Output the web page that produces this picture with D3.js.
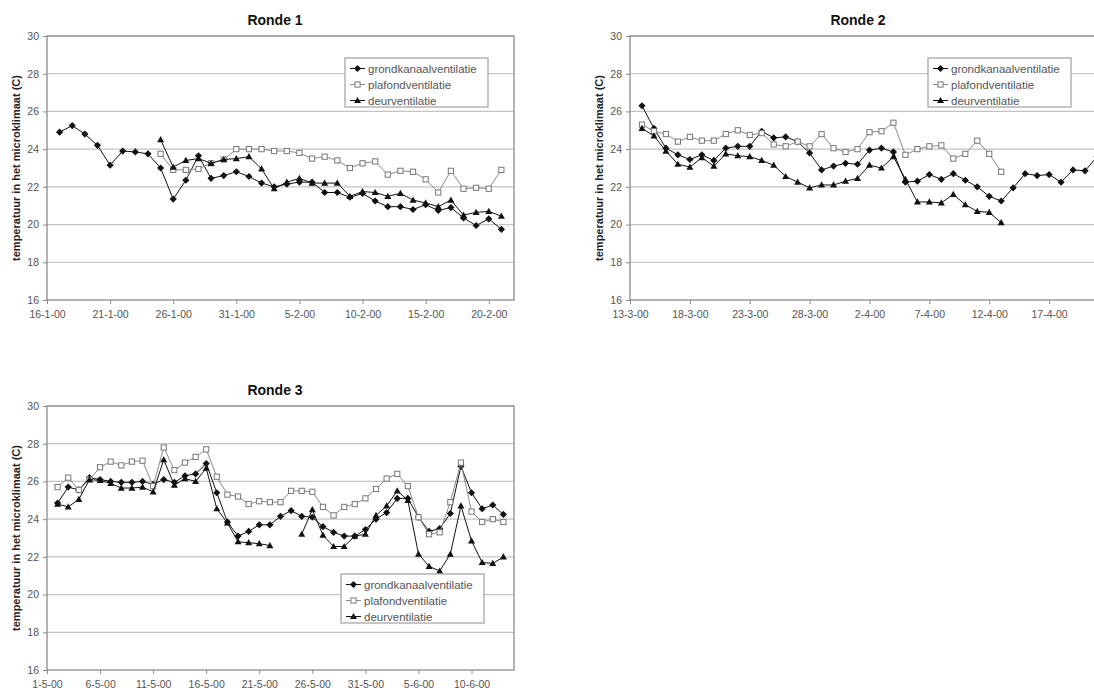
<!DOCTYPE html>
<html lang="nl">
<head>
<meta charset="utf-8">
<title>Ronde 1 - 3</title>
<script src="https://cdn.jsdelivr.net/npm/d3@7"></script>
<style>
  body { margin: 0; background: #fff; }
  text { font-family: "Liberation Sans", Arial, sans-serif; }
</style>
</head>
<body>
<script>

// namen in de legenda
var seriesNames = ["grondkanaalventilatie", "plafondventilatie", "deurventilatie"];
var yTicks = [16, 18, 20, 22, 24, 26, 28, 30];

// Ronde 1: dagwaarden vanaf 17-1-2000
var r1Start = "2000-01-17";
var r1Grond = [24.9, 25.25, 24.8, 24.2, 23.15, 23.9, 23.85, 23.75, 23.0, 21.35, 22.35, 23.65, 22.45, 22.6, 22.8, 22.55, 22.2, 22.0,
               22.15, 22.25, 22.25, 21.7, 21.7, 21.45, 21.65, 21.25, 20.95, 20.95, 20.8, 21.05, 20.75, 20.9, 20.35, 19.95, 20.3, 19.75];
var r1Plafond = [null, null, null, null, null, null, null, null, 23.75, 22.9, 22.9, 22.95, 23.25, 23.45, 24.0, 24.0, 24.0, 23.9,
                 23.9, 23.8, 23.5, 23.6, 23.4, 23.0, 23.25, 23.35, 22.65, 22.85, 22.8, 22.4, 21.7, 22.85, 21.9, 21.95, 21.9, 22.9];
var r1Deur = [null, null, null, null, null, null, null, null, 24.5, 23.05, 23.4, 23.5, 23.25, 23.45, 23.5, 23.6, 22.95, 21.9,
              22.25, 22.45, 22.2, 22.2, 22.2, 21.5, 21.75, 21.7, 21.5, 21.65, 21.3, 21.15, 20.95, 21.3, 20.5, 20.65, 20.7, 20.45];
var r1Ticks = ["2000-01-16", "2000-01-21", "2000-01-26", "2000-01-31", "2000-02-05", "2000-02-10", "2000-02-15", "2000-02-20"];

// Ronde 2: dagwaarden vanaf 14-3-2000
var r2Start = "2000-03-14";
var r2Grond = [26.3, 25.1, 24.05, 23.7, 23.45, 23.7, 23.4, 24.05, 24.15, 24.15, 24.95, 24.6, 24.65, 24.4, 23.8, 22.9, 23.1, 23.25, 23.2, 23.95,
               24.05, 23.85, 22.25, 22.3, 22.65, 22.4, 22.7, 22.35, 22.0, 21.5, 21.25, 21.95, 22.7, 22.6, 22.65, 22.25, 22.9, 22.85, 23.6];
var r2Plafond = [25.3, 24.95, 24.8, 24.4, 24.65, 24.45, 24.45, 24.8, 25.0, 24.75, 24.85, 24.25, 24.15, 24.4, 24.15, 24.8, 24.05, 23.85, 24.0, 24.9,
                 24.95, 25.4, 23.7, 24.0, 24.15, 24.2, 23.5, 23.75, 24.45, 23.75, 22.8];
var r2Deur = [25.1, 24.7, 23.9, 23.2, 23.05, 23.55, 23.1, 23.75, 23.65, 23.6, 23.4, 23.15, 22.55, 22.25, 21.95, 22.1, 22.1, 22.3, 22.45, 23.15,
              23.0, 23.6, 22.4, 21.2, 21.2, 21.15, 21.6, 21.05, 20.7, 20.65, 20.1];
var r2Ticks = ["2000-03-13", "2000-03-18", "2000-03-23", "2000-03-28", "2000-04-02", "2000-04-07", "2000-04-12", "2000-04-17"];

// Ronde 3: dagwaarden vanaf 2-5-2000
var r3Start = "2000-05-02";
var r3Grond = [24.85, 25.7, 25.55, 26.2, 26.1, 26.0, 25.95, 25.95, 26.0, 25.85, 26.1, 25.95, 26.3, 26.4, 26.95, 25.4, 23.85, 23.1, 23.35, 23.7, 23.7, 24.15,
               24.45, 24.15, 24.1, 23.6, 23.3, 23.1, 23.1, 23.45, 24.0, 24.35, 25.1, 25.1, 24.1, 23.35, 23.5, 24.3, 26.8, 25.4, 24.55, 24.75, 24.25];
var r3Plafond = [25.7, 26.2, 25.55, 26.1, 26.75, 27.05, 26.85, 27.05, 27.1, 25.75, 27.8, 26.6, 27.0, 27.3, 27.7, 26.25, 25.3, 25.2, 24.8, 24.95, 24.9, 24.9,
                 25.5, 25.5, 25.45, 24.65, 24.2, 24.65, 24.8, 25.1, 25.6, 26.15, 26.4, 25.75, 24.1, 23.2, 23.3, 24.9, 27.0, 24.4, 23.85, 24.0, 23.85];
var r3Deur = [24.8, 24.65, 25.05, 26.1, 26.05, 25.9, 25.65, 25.65, 25.7, 25.45, 27.15, 25.8, 26.15, 26.0, 26.7, 24.55, 23.8, 22.8, 22.75, 22.7, 22.6, null,
              null, 23.2, 24.5, 23.15, 22.55, 22.55, 23.1, 23.2, 24.2, 24.7, 25.5, 25.0, 22.15, 21.5, 21.25, 22.15, 24.7, 22.85, 21.7, 21.65, 22.0];
var r3Ticks = ["2000-05-01", "2000-05-06", "2000-05-11", "2000-05-16", "2000-05-21", "2000-05-26", "2000-05-31", "2000-06-05", "2000-06-10"];

var parseDay = d3.utcParse("%Y-%m-%d");
var fmtDay = d3.utcFormat("%-d-%-m-%y");

var svg = d3.select("body").append("svg")
    .attr("width", 1094)
    .attr("height", 693);

var plotW = 467, plotH = 264;

var panels = [
  {title: "Ronde 1", left: 47, top: 36, from: "2000-01-16", to: "2000-02-22", start: r1Start,
   vals: [r1Grond, r1Plafond, r1Deur], ticks: r1Ticks, legend: [345, 58]},
  {title: "Ronde 2", left: 630, top: 36, from: "2000-03-13", to: "2000-04-21", start: r2Start,
   vals: [r2Grond, r2Plafond, r2Deur], ticks: r2Ticks, legend: [928, 58]},
  {title: "Ronde 3", left: 47, top: 406, from: "2000-05-01", to: "2000-06-14", start: r3Start,
   vals: [r3Grond, r3Plafond, r3Deur], ticks: r3Ticks, legend: [341, 574]}
];

var styles = [
  {stroke: "#111", shape: "diamond"},
  {stroke: "#8a8a8a", shape: "square"},
  {stroke: "#111", shape: "triangle"}
];

function marker(sel, shape) {
  if (shape == "square") {
    sel.append("rect").attr("x", -2.6).attr("y", -2.6).attr("width", 5.2).attr("height", 5.2)
      .attr("fill", "#fff").attr("stroke", "#777").attr("stroke-width", 1);
  } else if (shape == "diamond") {
    sel.append("path").attr("d", "M0,-3.6L3.6,0L0,3.6L-3.6,0Z").attr("fill", "#111");
  } else {
    sel.append("path").attr("d", "M0,-3.6L3.5,2.6L-3.5,2.6Z").attr("fill", "#111");
  }
}

panels.forEach(function(p) {
  var x = d3.scaleUtc()
    .domain([parseDay(p.from), parseDay(p.to)])
    .range([p.left, p.left + plotW]);
  var y = d3.scaleLinear()
    .domain([16, 30])
    .range([p.top + plotH, p.top]);

  var g = svg.append("g");

  // rasterlijnen
  g.selectAll(".grid").data(yTicks.slice(1)).enter().append("line")
    .attr("x1", p.left).attr("x2", p.left + plotW)
    .attr("y1", function(d) { return y(d); })
    .attr("y2", function(d) { return y(d); })
    .attr("stroke", "#c4c4c4").attr("stroke-width", 1.2);

  g.append("rect")
    .attr("x", p.left).attr("y", p.top)
    .attr("width", plotW).attr("height", plotH)
    .attr("fill", "none").attr("stroke", "#8c8c8c").attr("stroke-width", 1.3);

  // assen
  var xAxis = g.append("g")
    .attr("transform", "translate(0," + (p.top + plotH) + ")")
    .call(d3.axisBottom(x).tickValues(p.ticks.map(parseDay)).tickFormat(fmtDay).tickSize(4).tickPadding(7));
  var yAxis = g.append("g")
    .attr("transform", "translate(" + p.left + ",0)")
    .call(d3.axisLeft(y).tickValues(yTicks).tickSize(4).tickPadding(4));
  [xAxis, yAxis].forEach(function(a) {
    a.select(".domain").remove();
    a.selectAll(".tick line").attr("stroke", "#8c8c8c");
    a.selectAll(".tick text").attr("fill", "#555").style("font-size", "10.5px")
      .style("font-family", "'Liberation Sans', Arial, sans-serif");
  });

  g.append("text")
    .attr("x", p.left + 228).attr("y", p.top - 11)
    .attr("text-anchor", "middle")
    .style("font-size", "14px").style("font-weight", "bold").attr("fill", "#111")
    .text(p.title);

  g.append("text")
    .attr("transform", "translate(" + (p.left - 31) + "," + (p.top + plotH / 2) + ") rotate(-90)")
    .attr("text-anchor", "middle").attr("dy", "0.35em")
    .style("font-size", "11px").style("font-weight", "bold").attr("fill", "#222")
    .text("temperatuur in het microklimaat (C)");

  // lijnen en markers
  var clipId = "clip" + p.left + p.top;
  svg.append("clipPath").attr("id", clipId).append("rect")
    .attr("x", p.left - 6).attr("y", p.top).attr("width", plotW + 6).attr("height", plotH);

  p.vals.forEach(function(vals, si) {
    var pts = vals.map(function(v, i) {
      return {d: d3.utcDay.offset(parseDay(p.start), i), v: v};
    });
    var line = d3.line()
      .defined(function(d) { return d.v != null; })
      .x(function(d) { return x(d.d); })
      .y(function(d) { return y(d.v); });
    var sg = g.append("g").attr("clip-path", "url(#" + clipId + ")");
    sg.append("path").datum(pts)
      .attr("d", line)
      .attr("fill", "none")
      .attr("stroke", styles[si].stroke)
      .attr("stroke-width", 1);
    sg.selectAll(".m").data(pts.filter(function(d) { return d.v != null; })).enter()
      .append("g")
      .attr("transform", function(d) { return "translate(" + x(d.d) + "," + y(d.v) + ")"; })
      .each(function() { marker(d3.select(this), styles[si].shape); });
  });

  // legenda
  var lx = p.legend[0], ly = p.legend[1];
  var lg = g.append("g").attr("transform", "translate(" + lx + "," + ly + ")");
  lg.append("rect").attr("width", 143).attr("height", 49)
    .attr("fill", "#fff").attr("stroke", "#a0a0a0").attr("stroke-width", 1.2);
  seriesNames.forEach(function(name, i) {
    var ry = 10.5 + i * 16;
    lg.append("line").attr("x1", 5).attr("x2", 20).attr("y1", ry).attr("y2", ry)
      .attr("stroke", styles[i].stroke).attr("stroke-width", 1);
    marker(lg.append("g").attr("transform", "translate(12.5," + ry + ")"), styles[i].shape);
    lg.append("text").attr("x", 23).attr("y", ry).attr("dy", "0.35em")
      .style("font-size", "11.5px").attr("fill", "#555")
      .text(name);
  });
});

</script>
</body>
</html>
